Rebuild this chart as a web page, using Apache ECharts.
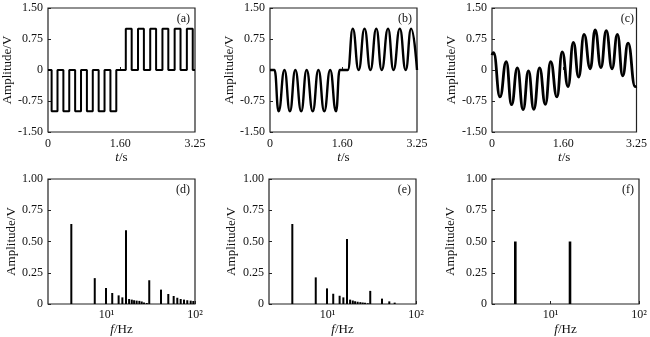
<!DOCTYPE html>
<html>
<head>
<meta charset="utf-8">
<script src="https://cdn.jsdelivr.net/npm/echarts@6/dist/echarts.min.js"></script>
<style>
html,body{margin:0;padding:0;background:#fff}
#c{width:650px;height:337px}
</style>
</head>
<body>
<div id="c"></div>
<script>
// ---- tick labels ----
const timeTicks = [0, 1.6, 3.25];
const timeTickMarks = [1.6];
const ampTicks = [-1.5, -0.75, 0, 0.75, 1.5];
const specTicks = [0, 0.25, 0.5, 0.75, 1.0];
const decadeLabels = { 10: '10\u00b9', 100: '10\u00b2' };

// ---- (a) ideal pulse train: switching instants (s) and the level after each ----
const aTimes  = [0.08, 0.21, 0.34, 0.47, 0.60, 0.73, 0.86, 0.99, 1.12, 1.25, 1.38, 1.51,
                 1.72, 1.85, 1.99, 2.12, 2.26, 2.39, 2.53, 2.66, 2.80, 2.93, 3.07, 3.20];
const aLevels = [-1, 0, -1, 0, -1, 0, -1, 0, -1, 0, -1, 0,
                  1, 0, 1, 0, 1, 0, 1, 0, 1, 0, 1, 0];

// ---- (b) filtered pulse train: turning points ----
const bTimes  = [0, 0.10, 0.19, 0.32, 0.44, 0.56, 0.69, 0.81, 0.945, 1.07, 1.20, 1.33, 1.46, 1.54,
                 1.72, 1.83, 1.96, 2.09, 2.22, 2.35, 2.47, 2.61, 2.73, 2.87, 3.00, 3.12, 3.25];
const bValues = [0, 0, -1, 0, -1, 0, -1, 0, -1, 0, -1, 0, -1, 0,
                 0, 1, 0, 1, 0, 1, 0, 1, 0, 1, 0, 1, 0];

// ---- (c) two-tone signal: turning points ----
const cTimes  = [0, 0.035, 0.18, 0.32, 0.44, 0.57, 0.70, 0.82, 0.94, 1.07, 1.20, 1.32, 1.46, 1.58,
                 1.71, 1.83, 1.95, 2.07, 2.21, 2.32, 2.45, 2.57, 2.70, 2.82, 2.94, 3.06, 3.22, 3.25];
const cValues = [0.36, 0.42, -0.65, 0.20, -0.84, 0.05, -0.96, -0.02, -0.95, 0.05, -0.83, 0.20, -0.65, 0.44,
                 -0.40, 0.67, -0.17, 0.86, 0.03, 0.97, 0.06, 0.95, 0.03, 0.86, -0.14, 0.65, -0.40, -0.39];

// ---- spectra: frequency (Hz) and amplitude (V) ----
const dFreqs = [4.0, 7.36, 9.87, 11.6, 13.7, 15.1, 16.6, 18.0, 19.3, 20.5, 21.9, 23.5, 25.0, 26.5, 28.5,
                30.4, 41.3, 49.9, 57.4, 63.1, 68.9, 75.1, 81.8, 89.4, 95.7];
const dAmps  = [0.64, 0.207, 0.128, 0.088, 0.069, 0.053, 0.59, 0.04, 0.035, 0.03, 0.027, 0.025, 0.02, 0.012, 0.008,
                0.19, 0.115, 0.08, 0.064, 0.05, 0.04, 0.035, 0.03, 0.027, 0.024];

const eFreqs = [4.0, 7.36, 9.87, 11.6, 13.7, 15.1, 16.6, 18.0, 19.3, 20.5, 21.9, 23.5, 25.0, 26.5, 28.5,
                30.4, 41.3, 49.9, 57.4];
const eAmps  = [0.64, 0.213, 0.125, 0.082, 0.066, 0.053, 0.52, 0.035, 0.028, 0.022, 0.018, 0.015, 0.012, 0.01, 0.006,
                0.105, 0.043, 0.021, 0.011];

const fFreqs = [4.0, 16.6];
const fAmps  = [0.5, 0.5];

const panelNames = ['(a)', '(b)', '(c)', '(d)', '(e)', '(f)'];

// ---- helpers ----
function stepPoints(times, levels, t0, t1, start) {
  const pts = [[t0, start]];
  let prev = start;
  times.forEach((t, i) => { pts.push([t, prev]); pts.push([t, levels[i]]); prev = levels[i]; });
  pts.push([t1, prev]);
  return pts;
}
const zip = (xs, ys) => xs.map((x, i) => [x, ys[i]]);

const FONT = '"Liberation Serif", "Times New Roman", serif';
const INK = '#111';
const fmt2 = v => (Math.abs(v) < 1e-9 ? '0' : v.toFixed(2));

const lefts = [48, 270, 492, 48, 269, 492];
const tops = [8, 8, 8, 179, 179, 179];
const W = 147;
const heights = [124, 124, 124, 125, 125, 125];
const yNameGaps = [29, 32, 34, 29, 31, 35];

const grids = [], xAxes = [], yAxes = [], graphics = [];
for (let i = 0; i < 6; i++) {
  grids.push({ left: lefts[i], top: tops[i], width: W, height: heights[i], show: true,
               borderColor: '#222', borderWidth: 1.2, backgroundColor: 'transparent', containLabel: false });
  const top = i < 3;
  if (top) {
    xAxes.push({
      gridIndex: i, type: 'value', min: 0, max: 3.25,
      name: '{it|t}/s', nameLocation: 'middle', nameGap: 19,
      nameTextStyle: { fontFamily: FONT, fontSize: 13, color: INK,
                       rich: { it: { fontStyle: 'italic', fontFamily: FONT, fontSize: 13, color: INK } } },
      axisLine: { show: false }, splitLine: { show: false },
      axisTick: { show: true, inside: true, length: 3, customValues: timeTickMarks, lineStyle: { color: '#222' } },
      axisLabel: { customValues: timeTicks, fontFamily: FONT, fontSize: 12, color: INK, margin: 6,
                   formatter: fmt2 }
    });
    yAxes.push({
      gridIndex: i, type: 'value', min: -1.5, max: 1.5, interval: 0.75,
      name: 'Amplitude/V', nameLocation: 'middle', nameGap: yNameGaps[i],
      nameTextStyle: { fontFamily: FONT, fontSize: 13, color: INK },
      axisLine: { show: false }, splitLine: { show: false },
      axisTick: { show: true, inside: true, length: 3, lineStyle: { color: '#222' } },
      axisLabel: { fontFamily: FONT, fontSize: 12, color: INK, margin: 5, formatter: fmt2 }
    });
  } else {
    xAxes.push({
      gridIndex: i, type: 'log', logBase: 10, min: 2.18, max: 100,
      name: '{it|f}/Hz', nameLocation: 'middle', nameGap: 19,
      nameTextStyle: { fontFamily: FONT, fontSize: 13, color: INK,
                       rich: { it: { fontStyle: 'italic', fontFamily: FONT, fontSize: 13, color: INK } } },
      axisLine: { show: false }, splitLine: { show: false }, minorTick: { show: false },
      axisTick: { show: true, inside: true, length: 3, lineStyle: { color: '#222' } },
      axisLabel: { fontFamily: FONT, fontSize: 12, color: INK, margin: 5, showMinLabel: false,
                   formatter: v => {
                     const k = Math.round(v);
                     return (Math.abs(v - k) < 1e-6 && decadeLabels[k]) ? decadeLabels[k] : '';
                   } }
    });
    yAxes.push({
      gridIndex: i, type: 'value', min: 0, max: 1, interval: 0.25,
      name: 'Amplitude/V', nameLocation: 'middle', nameGap: yNameGaps[i],
      nameTextStyle: { fontFamily: FONT, fontSize: 13, color: INK },
      axisLine: { show: false }, splitLine: { show: false },
      axisTick: { show: true, inside: true, length: 3, lineStyle: { color: '#222' } },
      axisLabel: { fontFamily: FONT, fontSize: 12, color: INK, margin: 5, formatter: fmt2 }
    });
  }
  graphics.push({ type: 'text', right: 650 - (lefts[i] + W) + 5, top: tops[i] + 5,
                  style: { text: panelNames[i], font: '12px ' + FONT, fill: INK } });
}

const lineBase = (idx, data, width, smooth) => ({
  type: 'line', xAxisIndex: idx, yAxisIndex: idx, data, showSymbol: false, symbol: 'none',
  smooth: smooth, smoothMonotone: smooth ? 'x' : undefined,
  lineStyle: { color: '#000', width: width }, animation: false, silent: true
});
const barBase = (idx, data, width) => ({
  type: 'bar', xAxisIndex: idx, yAxisIndex: idx, data, barWidth: width,
  itemStyle: { color: '#000' }, animation: false, silent: true
});

const chart = echarts.init(document.getElementById('c'), null, { renderer: 'canvas' });
chart.setOption({
  backgroundColor: '#fff',
  animation: false,
  grid: grids,
  xAxis: xAxes,
  yAxis: yAxes,
  graphic: graphics,
  series: [
    lineBase(0, stepPoints(aTimes, aLevels, 0, 3.25, 0), 2, false),
    lineBase(1, zip(bTimes, bValues), 2.4, 0.5),
    lineBase(2, zip(cTimes, cValues), 2.8, 0.5),
    barBase(3, zip(dFreqs, dAmps), 2),
    barBase(4, zip(eFreqs, eAmps), 2),
    barBase(5, zip(fFreqs, fAmps), 2.6)
  ]
});
</script>
</body>
</html>
